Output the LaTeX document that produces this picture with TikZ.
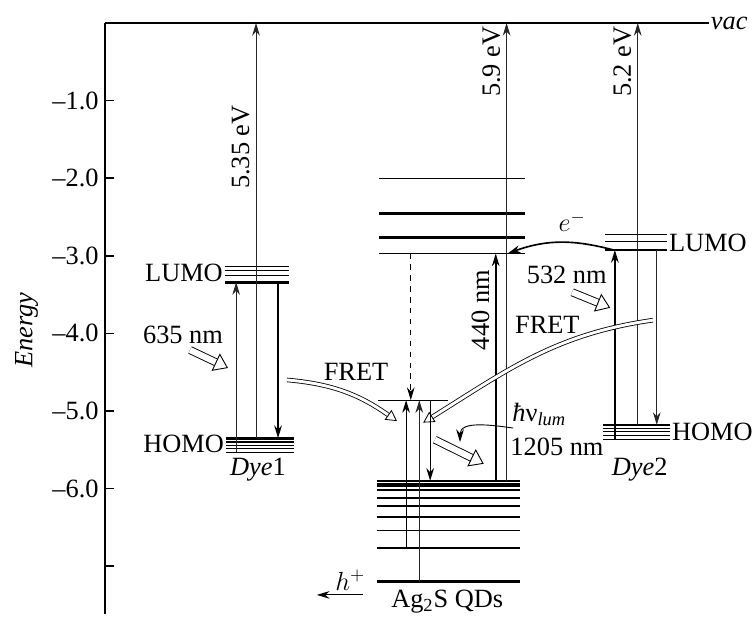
\documentclass[tikz,border=0pt]{standalone}
\usepackage{fontspec}
\setmainfont{Liberation Serif}
\usepackage{tikz}
\usetikzlibrary{arrows.meta}

\tikzset{
	lvl/.style={line width=0.6pt},
	lvlb/.style={line width=1.6pt},
	tip/.style={-{Stealth[length=7pt,width=4.2pt]}},
	pit/.style={{Stealth[length=7pt,width=4.2pt]}-},
	tr/.style={line width=0.55pt, black!85, tip},
	trb/.style={line width=1pt, tip},
	hollow/.style={double, double distance=3.4pt, line width=0.5pt, -{Triangle[open,length=7.5pt,width=10.5pt,line width=0.5pt]}},
	fret/.style={double, double distance=1.6pt, line width=0.45pt, -{Triangle[open,length=6pt,width=6.5pt,line width=0.45pt]}},
}

\begin{document}
\begin{tikzpicture}[x=1.5cm, y=1.5cm, font=\fontsize{14.5}{17}\selectfont]
	\useasboundingbox (-1.353,-7.655) rectangle (8.363,0.296);
	
	% axis
	\draw[line width=1.1pt] (0,-7.62) -- (0,0);
	\draw[line width=1.6pt] (0,0) -- (7.78,0);
	\node[right, inner sep=1pt, font=\fontsize{14.5}{17}\selectfont\itshape] (vac) at (7.78,0) {vac};
	\foreach \e in {1,...,7}
	\draw[line width=0.8pt] (0,-\e) -- (0.12,-\e);
	\foreach \e in {1,...,6}
	\node[left] (tick\e) at (0,-\e) {--\e.0};
	\node[rotate=90, font=\fontsize{14.5}{17}\selectfont\itshape] (energy) at (-1.01,-3.96) {Energy};
	
	% Dye1
	\foreach \y in {3.14,3.19,3.25}
	\draw[lvl] (1.546,-\y) -- (2.371,-\y);
	\draw[lvlb] (1.546,-3.34) -- (2.371,-3.34);
	\draw[lvlb] (1.56,-5.35) -- (2.436,-5.35);
	\foreach \y in {5.40,5.44,5.48,5.53}
	\draw[lvl] (1.56,-\y) -- (2.436,-\y);
	\node[left, inner sep=1pt] (lumo1) at (1.546,-3.22) {LUMO};
	\node[left, inner sep=1pt] (homo1) at (1.56,-5.43) {HOMO};
	\node (dye1) at (1.97,-5.76) {\textit{Dye}1};
	
	\draw[tr] (1.69,-5.53) -- (1.69,-3.34);
	\draw[tr, pit] (1.946,0) -- (1.946,-5.35);
	\draw[trb] (2.23,-3.34) -- (2.23,-5.35);
	\node[rotate=90, anchor=south] (e1) at (1.946,-1.6) {5.35 eV};
	\node (nm635) at (1.005,-4.02) {635 nm};
	\draw[hollow] (1.095,-4.214) -- (1.585,-4.446);
	
	% Ag2S QDs
	\draw[lvl] (3.53,-2.0) -- (5.41,-2.0);
	\draw[lvlb] (3.53,-2.45) -- (5.41,-2.45);
	\draw[lvlb] (3.53,-2.76) -- (5.41,-2.76);
	\draw[lvl] (3.53,-2.97) -- (5.41,-2.97);
	\draw[lvl] (3.518,-4.86) -- (4.42,-4.86);
	\foreach \y in {5.90,5.94,5.97,6.02,6.12,6.22,6.37,6.54,6.77}
	\draw[line width=1pt] (3.50,-\y) -- (5.35,-\y);
	\draw[lvlb] (3.50,-7.20) -- (5.35,-7.20);
	
	\draw[line width=0.5pt, dashed, tip] (3.94,-2.97) -- (3.94,-4.86);
	\draw[tr, black] (3.88,-6.77) -- (3.88,-4.86);
	\draw[tr, line width=0.8pt] (4.05,-7.20) -- (4.05,-4.86);
	\draw[tr, black] (4.19,-4.86) -- (4.19,-5.90);
	\draw[trb] (5.035,-5.90) -- (5.035,-2.97);
	\draw[tr, pit] (5.175,0) -- (5.175,-5.90);
	\node[rotate=90, anchor=south] (e2) at (5.175,-0.5) {5.9 eV};
	\node[rotate=90, anchor=south] (nm440) at (5.035,-3.70) {440 nm};
	
	\draw[line width=0.6pt, pit] (2.73,-7.37) -- (3.325,-7.37);
	\node (hole) at (3.16,-7.18) {$h^+$};
	\node (qds) at (4.41,-7.46) {Ag\textsubscript{2}S QDs};
	
	\draw[hollow] (4.25,-5.37) -- (4.88,-5.68);
	\node[anchor=base west, inner sep=0pt] (hnu) at (5.245,-5.13) {\textit{ħ}ν\textsubscript{\itshape lum}};
	\node[anchor=base west, inner sep=0pt] (wl1205) at (5.22,-5.57) {1205 nm};
	\draw[line width=0.5pt, tip] (5.26,-5.22) to[out=172, in=90] (4.575,-5.40);
	
	% Dye2
	\foreach \y in {2.72,2.82}
	\draw[lvl] (6.44,-\y) -- (7.24,-\y);
	\draw[lvlb] (6.44,-2.925) -- (7.24,-2.925);
	\draw[lvlb] (6.42,-5.18) -- (7.28,-5.18);
	\foreach \y in {5.23,5.27,5.32,5.37}
	\draw[lvl] (6.42,-\y) -- (7.28,-\y);
	\node[right, inner sep=1pt] (lumo2) at (7.24,-2.84) {LUMO};
	\node[right, inner sep=1pt] (homo2) at (7.28,-5.27) {HOMO};
	\node (dye2) at (6.89,-5.76) {\textit{Dye}2};
	
	\draw[trb] (6.57,-5.37) -- (6.57,-2.925);
	\draw[tr, pit] (6.865,0) -- (6.865,-5.18);
	\draw[tr] (7.11,-2.925) -- (7.11,-5.18);
	\node[rotate=90, anchor=south] (e3) at (6.865,-0.5) {5.2 eV};
	\node (nm532) at (5.95,-3.25) {532 nm};
	\draw[hollow] (6.02,-3.47) -- (6.51,-3.67);
	
	% electron transfer and FRET
	\draw[line width=0.9pt, tip] (6.57,-2.93) to[out=165, in=20] (5.19,-2.97);
	\node (elec) at (6.02,-2.56) {$e^-$};
	\node (fret1) at (3.235,-4.50) {FRET};
	\draw[fret] (2.345,-4.60) to[out=-5, in=145] (3.763,-5.13);
	\node (fret2) at (5.70,-3.89) {FRET};
	\draw[fret] (7.06,-3.83) to[out=188, in=32] (4.10,-5.15);
	
\end{tikzpicture}
\end{document}
